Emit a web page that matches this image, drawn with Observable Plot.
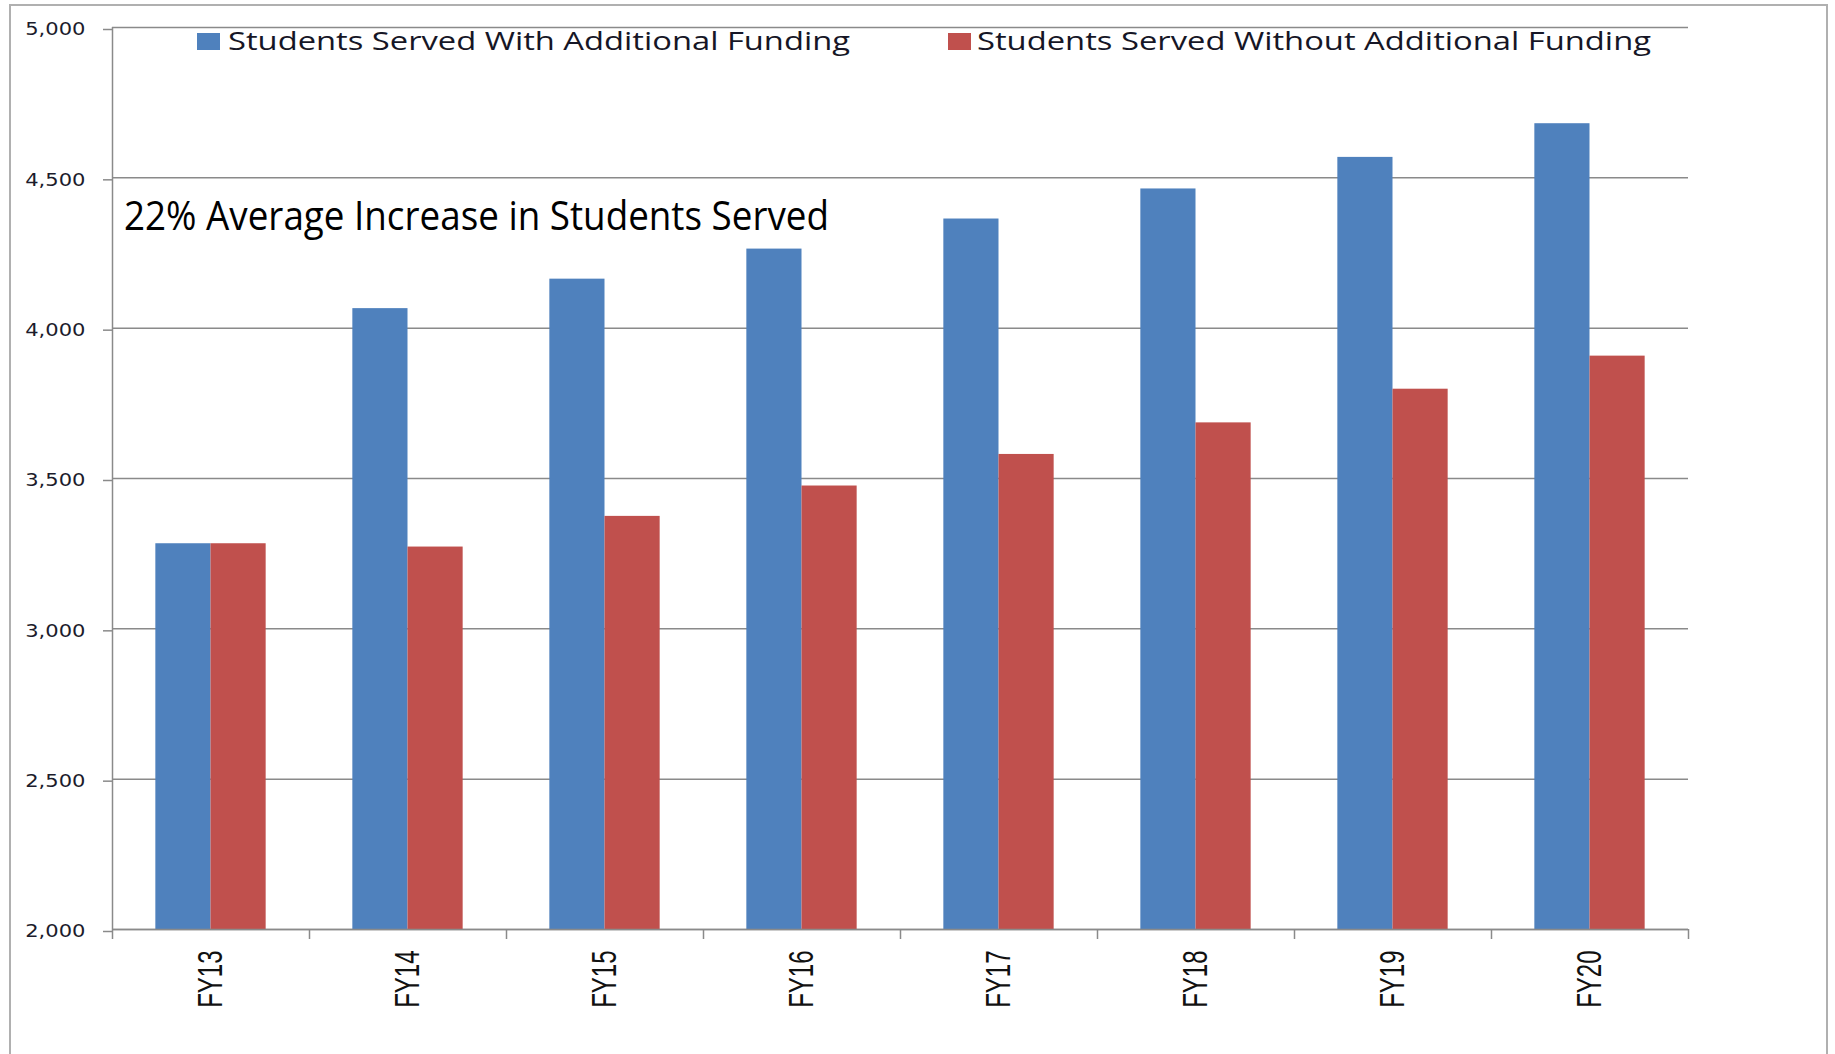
<!DOCTYPE html>
<html><head><meta charset="utf-8">
<script src="https://cdn.jsdelivr.net/npm/d3@7"></script>
<script src="https://cdn.jsdelivr.net/npm/@observablehq/plot@0.6"></script>
<style>
html,body{margin:0;padding:0;background:#fff;overflow:hidden;}
#wrap{position:relative;width:1835px;height:1054px;}
#frame{position:absolute;left:9px;top:4px;width:1819px;height:1100px;border:2px solid #b0b0b0;box-sizing:border-box;}
#chart{position:absolute;left:0;top:0;}
#overlay{position:absolute;left:0;top:0;pointer-events:none;}
</style></head><body>
<div id="wrap"><div id="frame"></div><div id="chart"></div><svg id="overlay" width="1835" height="1054"></svg></div>
<script>
const categories = ["FY13","FY14","FY15","FY16","FY17","FY18","FY19","FY20"];
const withFunding = [3283, 4065, 4163, 4263, 4363, 4463, 4568, 4680];
const withoutFunding = [3283, 3272, 3374, 3475, 3580, 3685, 3797, 3907];
const seriesNames = ["Students Served With Additional Funding", "Students Served Without Additional Funding"];
const seriesColors = ["#4F81BD", "#C0504D"];
const yTicks = [2000, 2500, 3000, 3500, 4000, 4500, 5000];
const annotation = "22% Average Increase in Students Served";

const rows = [];
categories.forEach((c, i) => {
  rows.push({cat: c, i, s: 0, series: seriesNames[0], value: withFunding[i]});
  rows.push({cat: c, i, s: 1, series: seriesNames[1], value: withoutFunding[i]});
});
const pad = 0.22;
const half = (1 - 2 * pad) / 2;
const boundaries = d3.range(categories.length + 1);
const gray = "#8a8a8a";

const plot = Plot.plot({
  width: 1835, height: 1054,
  marginLeft: 112, marginRight: 147, marginTop: 27, marginBottom: 125,
  x: {domain: [0, categories.length]},
  y: {domain: [yTicks[0], yTicks[yTicks.length - 1]]},
  color: {domain: seriesNames, range: seriesColors},
  style: {background: "transparent", overflow: "visible"},
  marks: [
    Plot.gridY(yTicks, {stroke: gray, strokeOpacity: 1, strokeWidth: 1.5}),
    Plot.rectY(rows, {
      x1: d => d.i + pad + d.s * half,
      x2: d => d.i + pad + (d.s + 1) * half,
      y1: yTicks[0], y2: "value", fill: "series"
    }),
    Plot.ruleX([0], {stroke: gray, strokeWidth: 1.5}),
    Plot.ruleY([yTicks[0]], {stroke: gray, strokeWidth: 1.5}),
    Plot.axisY(yTicks, {tickSize: 9, tickPadding: 18, tickFormat: d3.format(","),
      fontSize: 18, fontFamily: "DejaVu Sans", fill: "#1c1c2c", stroke: gray, strokeWidth: 1.5, label: null, dy: 2}),
    Plot.axisX(boundaries, {anchor: "bottom", tickSize: 10, tickFormat: () => "", stroke: gray, strokeWidth: 1.5, label: null}),
    Plot.text(categories, {x: (d, i) => i + 0.5, frameAnchor: "bottom", dy: 21, rotate: -90,
      textAnchor: "end", lineAnchor: "middle", fontSize: 24, fontFamily: "Liberation Sans",
      fill: "#111"})
  ]
});
document.getElementById("chart").appendChild(plot);

function stretch(nodes, sx, sy) {
  nodes.forEach(function(node) {
    const t = node.getAttribute("transform") || "";
    const x = +node.getAttribute("x") || 0, y = +node.getAttribute("y") || 0;
    if (x || y) {
      node.setAttribute("x", 0); node.setAttribute("y", 0);
      node.setAttribute("transform", `${t} translate(${x},${y}) scale(${sx},${sy})`);
    } else {
      node.setAttribute("transform", `${t} scale(${sx},${sy})`);
    }
  });
}
const allText = Array.from(plot.querySelectorAll("text"));
const tickLabels = yTicks.map(d3.format(","));
stretch(allText.filter(n => tickLabels.includes(n.textContent)), 1.17, 1);
stretch(allText.filter(n => categories.includes(n.textContent)), 1, 1.45);

// legend + annotation overlay
const ov = d3.select("#overlay");
const legendX = [197, 948], legendTextX = [228, 977], legendLen = [622, 674];
seriesNames.forEach((name, k) => {
  ov.append("rect").attr("x", legendX[k]).attr("y", 33).attr("width", 23).attr("height", 17).attr("fill", seriesColors[k]);
  ov.append("text").attr("x", legendTextX[k]).attr("y", 50)
    .attr("font-family", "Open Sans").attr("font-size", 25).attr("fill", "#161626")
    .attr("textLength", legendLen[k]).attr("lengthAdjust", "spacingAndGlyphs").text(name);
});
ov.append("text").attr("x", 124).attr("y", 230)
  .attr("font-family", "Open Sans").attr("font-size", 40).attr("fill", "#000")
  .attr("textLength", 705).attr("lengthAdjust", "spacingAndGlyphs").text(annotation);
</script>
</body></html>
